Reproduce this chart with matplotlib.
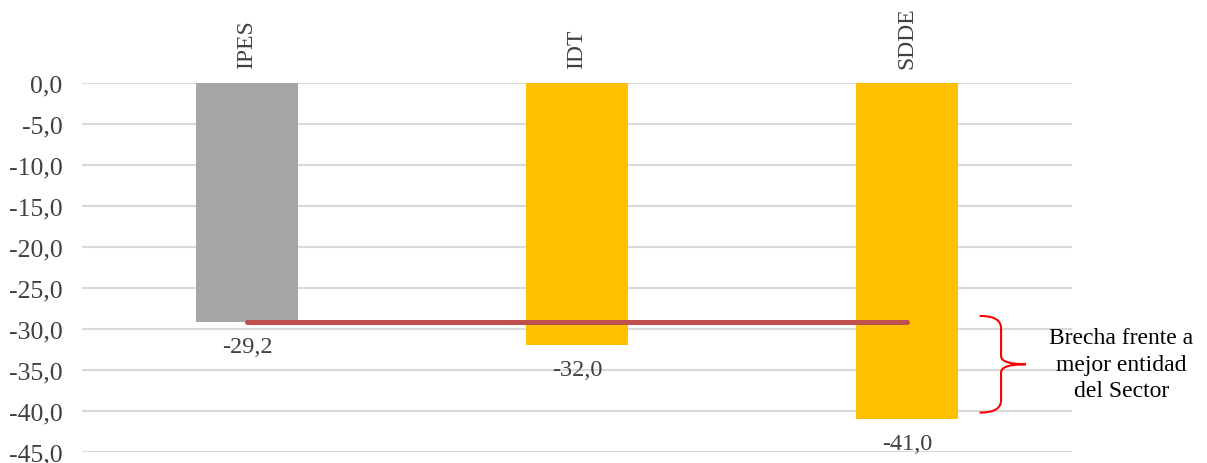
import matplotlib
matplotlib.use('Agg')
import matplotlib.pyplot as plt
from matplotlib.path import Path
from matplotlib.patches import PathPatch

plt.rcParams['font.family'] = ['Liberation Serif', 'DejaVu Serif']

# datos
categorias = ['IPES', 'IDT', 'SDDE']
valores = [-29.2, -32.0, -41.0]
colores = ['#A5A5A5', '#FFC000', '#FFC000']
ticks_y = [0, -5, -10, -15, -20, -25, -30, -35, -40, -45]
texto_brecha = 'Brecha frente a\nmejor entidad\ndel Sector'

fig = plt.figure(figsize=(12.07, 4.64), dpi=100)
ax = fig.add_axes([82 / 1207, 11 / 464, 990 / 1207, 369 / 464])

x = list(range(len(categorias)))
bars = ax.bar(x, valores, width=0.31, color=colores, zorder=2)

ax.set_xlim(-0.5, len(categorias) - 0.5)
ax.set_ylim(-45, 0)
ax.set_yticks(ticks_y)
ax.set_yticklabels([f'{t:.1f}'.replace('.', ',') for t in ticks_y],
                   fontsize=18.5, color='#404040')
ax.tick_params(axis='y', length=0, pad=14)
ax.set_xticks([])
for s in ax.spines.values():
    s.set_visible(False)
ax.yaxis.grid(True, color='#D9D9D9', linewidth=1.5, zorder=0)
ax.set_axisbelow(True)

# etiquetas de valores
ax.bar_label(bars, labels=[f'{v:.1f}'.replace('.', ',') for v in valores],
             padding=10, fontsize=17.5, color='#404040')

# nombres de categoria arriba, rotados
for xi, c in zip(x, categorias):
    ax.annotate(c, xy=(xi, 0), xytext=(0, 11), textcoords='offset points',
                rotation=90, ha='center', va='bottom', fontsize=17,
                color='#404040', annotation_clip=False)

# linea de la mejor entidad
mejor = max(valores)
ax.plot([x[0], x[-1]], [mejor, mejor], color='#C0504D', linewidth=3.6,
        solid_capstyle='round', zorder=3)

# llave
x0, xm, xt = 2.22, 2.285, 2.36
ytop, ybot = -28.4, -40.2
ymid = (ytop + ybot) / 2
verts = [(x0, ytop), (xm, ytop), (xm, ytop - 1.5),
         (xm, ymid + 1.0),
         (xm, ymid), (xt, ymid),
         (xm, ymid), (xm, ymid - 1.0),
         (xm, ybot + 1.5),
         (xm, ybot), (x0, ybot)]
codes = [Path.MOVETO, Path.CURVE3, Path.CURVE3,
         Path.LINETO,
         Path.CURVE3, Path.CURVE3,
         Path.CURVE3, Path.CURVE3,
         Path.LINETO,
         Path.CURVE3, Path.CURVE3]
ax.add_patch(PathPatch(Path(verts, codes), facecolor='none', edgecolor='#FF0000',
                       linewidth=1.5, clip_on=False, zorder=4))
ax.text(2.65, ymid, texto_brecha, ha='center', va='center', fontsize=17,
        color='black', linespacing=1.35, clip_on=False)

fig.savefig('out.png', dpi=100, facecolor='white')
